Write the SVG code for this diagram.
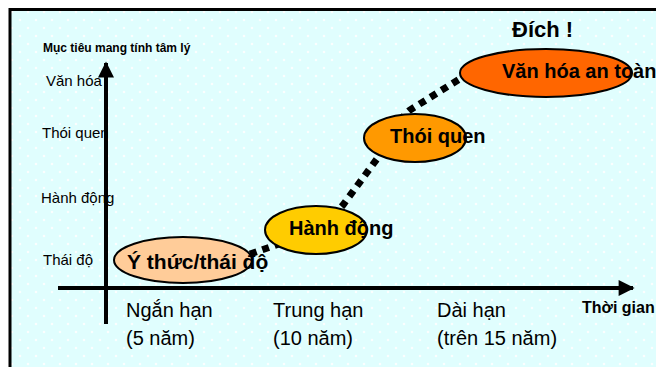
<svg xmlns="http://www.w3.org/2000/svg" width="656" height="367" viewBox="0 0 656 367">
<defs>
<pattern id="dots" width="16" height="16" patternUnits="userSpaceOnUse">
<rect width="16" height="16" fill="#E0FEFE"/>
<path d="M4 2.5 L5.5 4 L4 5.5 L2.5 4 Z M12 10.5 L13.5 12 L12 13.5 L10.5 12 Z" fill="#FFFFFF"/>
</pattern>
<marker id="ah" viewBox="0 0 10 10" refX="9" refY="5" markerWidth="4.2" markerHeight="4" markerUnits="strokeWidth" orient="auto">
<path d="M0 0 L10 5 L0 10 Z" fill="#000"/>
</marker>
<style>
.ax{stroke:#000;stroke-width:4;fill:none}
.lbl{font-family:"Liberation Sans",Arial,sans-serif;font-size:15px;fill:#000}
.tl{font-family:"Liberation Sans",Arial,sans-serif;font-size:20px;fill:#000}
.nd{font-family:"Liberation Sans",Arial,sans-serif;font-size:20px;font-weight:bold;fill:#000}
.el{stroke:#000;stroke-width:2}
.dot{stroke:#000;stroke-width:7;stroke-dasharray:7 6;fill:none}
</style>
</defs>
<rect x="0" y="0" width="656" height="367" fill="#FFFFFF"/>
<rect x="10" y="9" width="646" height="358" fill="url(#dots)"/>
<path d="M9 9.5 H656 M10 8 V367" stroke="#000" stroke-width="3" fill="none"/>

<g id="title-labels">
<text x="43" y="52" style="font-family:'Liberation Sans',Arial,sans-serif;font-size:12px;font-weight:bold">Mục tiêu mang tính tâm lý</text>
<text x="512" y="37" style="font-family:'Liberation Sans',Arial,sans-serif;font-size:22px;font-weight:bold">Đích !</text>
<text x="582" y="313" style="font-family:'Liberation Sans',Arial,sans-serif;font-size:16px;font-weight:bold">Thời gian</text>
</g>

<g id="y-labels">
<text class="lbl" x="46" y="86">Văn hóa</text>
<text class="lbl" x="42" y="138">Thói quen</text>
<text class="lbl" x="41" y="203">Hành động</text>
<text class="lbl" x="43" y="265">Thái độ</text>
</g>

<g id="x-labels">
<text class="tl" x="126" y="317">Ngắn hạn</text>
<text class="tl" x="126" y="345">(5 năm)</text>
<text class="tl" x="273" y="317">Trung hạn</text>
<text class="tl" x="273" y="345">(10 năm)</text>
<text class="tl" x="437" y="317">Dài hạn</text>
<text class="tl" x="437" y="345">(trên 15 năm)</text>
</g>

<g id="axes">
<line class="ax" x1="106" y1="324" x2="106" y2="63" marker-end="url(#ah)"/>
<line class="ax" x1="58" y1="288" x2="633" y2="288" marker-end="url(#ah)"/>
</g>

<g id="connectors">
<path class="dot" d="M250 254 L282 243 C310 232 330 220 343 205 L385 148 C395 130 400 118 410 110 L466 75"/>
</g>

<g id="node-ythuc">
<ellipse class="el" cx="183" cy="260" rx="69" ry="23" fill="#FFCC99"/>
<text class="nd" x="127" y="269" style="font-size:21px">Ý thức/thái độ</text>
</g>
<g id="node-hanhdong">
<ellipse class="el" cx="316" cy="230" rx="51" ry="24" fill="#FFCC00"/>
<text class="nd" x="289" y="235">Hành động</text>
</g>
<g id="node-thoiquen">
<ellipse class="el" cx="415" cy="138" rx="51" ry="24" fill="#FF9900"/>
<text class="nd" x="390" y="143">Thói quen</text>
</g>
<g id="node-vanhoa">
<ellipse class="el" cx="546" cy="73" rx="86" ry="24" fill="#FF6600"/>
<text class="nd" x="502" y="78">Văn hóa an toàn</text>
</g>
</svg>
